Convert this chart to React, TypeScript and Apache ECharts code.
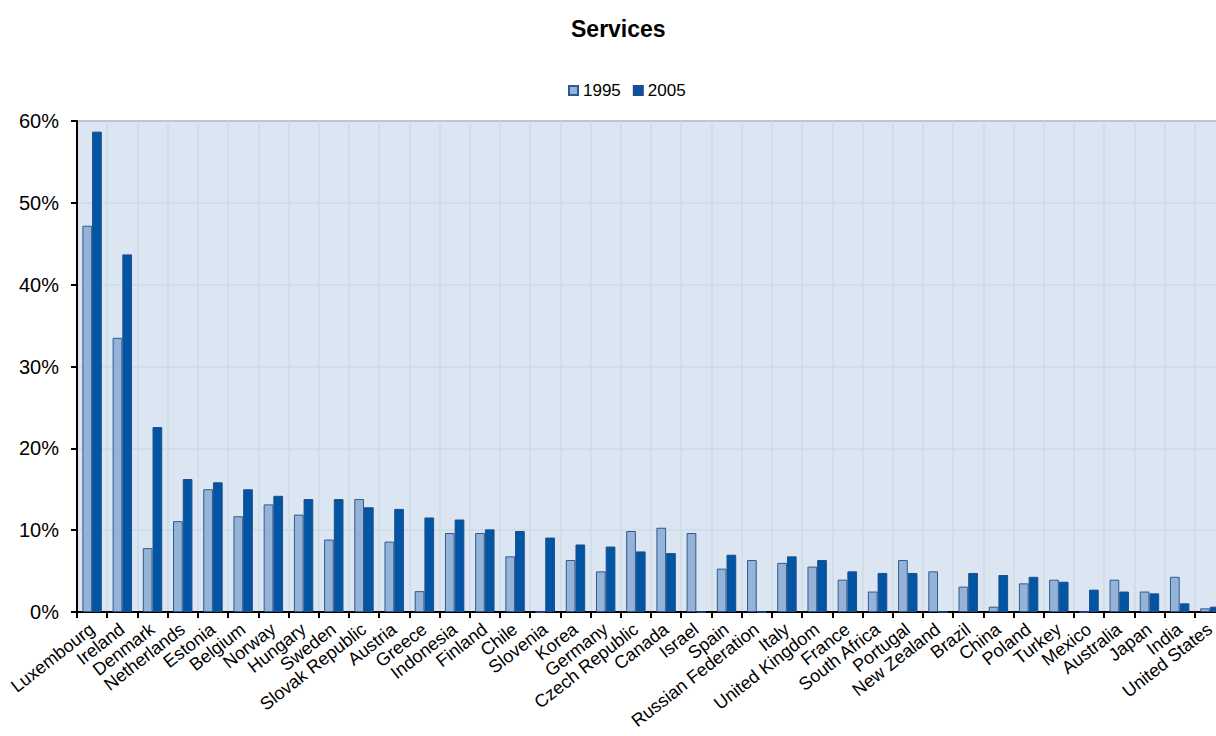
import React, { useEffect, useRef } from "react";
import * as echarts from "echarts";

const categories = [
  "Luxembourg", "Ireland", "Denmark", "Netherlands", "Estonia", "Belgium", "Norway",
  "Hungary", "Sweden", "Slovak Republic", "Austria", "Greece", "Indonesia", "Finland",
  "Chile", "Slovenia", "Korea", "Germany", "Czech Republic", "Canada", "Israel", "Spain",
  "Russian Federation", "Italy", "United Kingdom", "France", "South Africa", "Portugal",
  "New Zealand", "Brazil", "China", "Poland", "Turkey", "Mexico", "Australia", "Japan",
  "India", "United States",
];

const values1995 = [
  47.2, 33.5, 7.8, 11.1, 15.0, 11.7, 13.15, 11.9, 8.85, 13.8, 8.6, 2.55, 9.65, 9.65,
  6.8, 0, 6.35, 4.97, 9.9, 10.3, 9.65, 5.3, 6.35, 6.0, 5.55, 3.95, 2.5, 6.35, 4.97,
  3.1, 0.65, 3.5, 3.95, 0, 3.95, 2.5, 4.3, 0.45,
];

const values2005 = [
  58.7, 43.7, 22.6, 16.25, 15.85, 15.0, 14.2, 13.8, 13.8, 12.8, 12.6, 11.55, 11.3, 10.1,
  9.9, 9.1, 8.25, 8.0, 7.4, 7.2, 0, 7.0, 0, 6.8, 6.35, 4.97, 4.77, 4.77, 0, 4.77, 4.52,
  4.3, 3.7, 2.73, 2.5, 2.28, 1.06, 0.65,
];

const yTicks = { min: 0, max: 60, interval: 10 };

export default function App() {
  const ref = useRef<HTMLDivElement>(null);
  useEffect(() => {
    if (!ref.current) return;
    const chart = echarts.init(ref.current, null, { renderer: "svg" });
    const font = "Arial, 'Liberation Sans', Helvetica, sans-serif";
    chart.setOption({
      animation: false,
      textStyle: { fontFamily: font },
      title: {
        text: "Services",
        left: 566,
        top: 12,
        textStyle: { fontSize: 23, fontWeight: "bold", color: "#000", fontFamily: font },
      },
      legend: {
        top: 77,
        left: 563,
        itemWidth: 9,
        itemHeight: 9,
        itemGap: 12,
        icon: "rect",
        textStyle: { fontSize: 17, color: "#000", fontFamily: font },
        data: ["1995", "2005"],
      },
      grid: {
        left: 77,
        right: -9,
        top: 121,
        bottom: 124,
        show: true,
        backgroundColor: "#DCE6F2",
        borderColor: "#222",
        borderWidth: 1,
        containLabel: false,
        outerBoundsMode: "none",
      },
      xAxis: {
        type: "category",
        data: categories,
        axisLine: { show: true, lineStyle: { color: "#000", width: 2 } },
        axisTick: { show: true, length: 6, lineStyle: { color: "#000", width: 2 } },
        splitLine: { show: true, lineStyle: { color: "#CCDDE3", width: 1.5 } },
        axisLabel: {
          interval: 0,
          rotate: 38,
          fontSize: 18,
          color: "#000",
          margin: 15,
          fontFamily: font,
        },
      },
      yAxis: {
        type: "value",
        min: yTicks.min,
        max: yTicks.max,
        interval: yTicks.interval,
        axisLine: { show: true, lineStyle: { color: "#000", width: 2 } },
        axisTick: { show: true, length: 6, lineStyle: { color: "#000", width: 2 } },
        splitLine: { show: true, lineStyle: { color: "#CCDDE3", width: 1.5 } },
        axisLabel: {
          formatter: "{value}%",
          fontSize: 20,
          color: "#000",
          margin: 18,
          fontFamily: font,
        },
      },
      series: [
        {
          name: "1995",
          type: "bar",
          data: values1995,
          barWidth: 9.7,
          barGap: "0%",
          itemStyle: { color: "#95B3D7", borderColor: "#2C5B93", borderWidth: 1 },
        },
        {
          name: "2005",
          type: "bar",
          data: values2005,
          barWidth: 9.7,
          barGap: "0%",
          itemStyle: { color: "#0055A5", borderColor: "#1F4E8A", borderWidth: 1 },
        },
      ],
    });
    return () => chart.dispose();
  }, []);
  return (
    <div
      ref={ref}
      style={{ position: "absolute", left: 0, top: 0, width: 1216, height: 736 }}
    />
  );
}
